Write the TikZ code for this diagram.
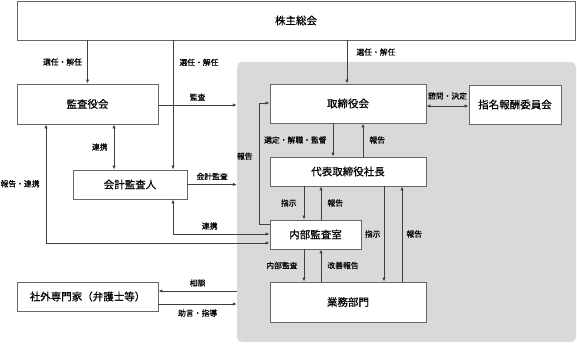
\documentclass[tikz,border=0pt]{standalone}
\usepackage{fontspec}
\newfontfamily\jpfont[FakeBold=0.6]{Noto Sans CJK JP}
\usetikzlibrary{arrows.meta,positioning}
\definecolor{linegray}{HTML}{404040}
\definecolor{boxgray}{HTML}{666666}
\definecolor{areagray}{HTML}{D9D9D9}

\begin{document}
\begin{tikzpicture}[x=1pt,y=-1pt,
  >={Latex[length=4pt,width=3.4pt]}, font=\jpfont,
  org/.style={draw=boxgray,line width=0.9pt,fill=white,inner sep=0pt,
    font=\jpfont\fontsize{10.5}{12}\selectfont},
  area/.style={fill=areagray,rounded corners=5pt,inner sep=0pt,
    minimum width=339pt,minimum height=280pt},
  link/.style={->,draw=linegray,line width=0.9pt},
  lbl/.style={font=\jpfont\fontsize{7.8}{9}\selectfont,inner sep=1pt,text=black}]
  \useasboundingbox (0,0) rectangle (577,344);
  \node[area] (group) at (406.5,202) {};
  \node[org,minimum width=558pt,minimum height=39pt] (share) at (296,20.5) {株主総会};
  \node[org,minimum width=141pt,minimum height=40pt] (kansa) at (87.5,104) {監査役会};
  \node[org,minimum width=114pt,minimum height=29pt] (kaikei) at (130,184.5) {会計監査人};
  \node[org,minimum width=141pt,minimum height=29pt] (outside) at (87.5,296.5) {社外専門家（弁護士等）};
  \node[org,minimum width=156pt,minimum height=39pt] (board) at (348,103.5) {取締役会};
  \node[org,minimum width=92pt,minimum height=39pt] (nomi) at (515,104.5) {指名報酬委員会};
  \node[org,minimum width=156pt,minimum height=29pt] (ceo) at (348,171.5) {代表取締役社長};
  \node[org,minimum width=91pt,minimum height=29pt] (audit) at (315.5,234.5) {内部監査室};
  \node[org,minimum width=156pt,minimum height=40pt] (ops) at (348,302) {業務部門};
  \draw[link] (share.south -| kansa.north) -- node[lbl,left=4pt] {選任・解任} (kansa.north);
  \draw[link] (share.south -| 173,0) -- node[lbl,right=5pt,pos=0.17] {選任・解任} (kaikei.north -| 173,0);
  \draw[link] (share.south -| 347,0) -- node[lbl,right=8pt,pos=0.27] {選任・解任} (board.north -| 347,0);
  \draw[link] (kansa.east |- 0,105) -- node[lbl,above=3pt] {監査} (group.west |- 0,105);
  \draw[link,<->] (kansa.south -| 114,0) -- node[lbl,left=5pt] {連携} (kaikei.north -| 114,0);
  \draw[link] (kaikei.east) -- node[lbl,above=3pt] {会計監査} (kaikei.east -| group.west);
  \draw[link,<->] (kaikei.south -| 173,0) |- node[lbl,above=3pt,pos=0.69] {連携} (audit.west |- 0,234);
  \draw[link,<->] (kansa.south -| 46,0) |- node[lbl,left=5pt,pos=0.25] {報告・連携} (audit.west |- 0,243);
  \draw[link] (group.west |- 0,291) -- node[lbl,above=3pt] {相談} (outside.east |- 0,291);
  \draw[link] (outside.east |- 0,304) -- node[lbl,below=4pt] {助言・指導} (group.west |- 0,304);
  \draw[link,<->] (board.east |- 0,106) -- node[lbl,above=5pt] {諮問・決定} (nomi.west |- 0,106);
  \draw[link] (board.south -| 333,0) -- node[lbl,left=5pt] {選定・解職・監督} (ceo.north -| 333,0);
  \draw[link] (ceo.north -| 363,0) -- node[lbl,right=5pt] {報告} (board.south -| 363,0);
  \draw[link] (audit.west |- 0,224) -- (259,224) |- node[lbl,left=5pt,pos=0.28] {報告} (board.west |- 0,103);
  \draw[link] (ceo.south -| 304,0) -- node[lbl,left=6pt] {指示} (audit.north -| 304,0);
  \draw[link] (audit.north -| 321,0) -- node[lbl,right=5pt] {報告} (ceo.south -| 321,0);
  \draw[link] (audit.south -| 304,0) -- node[lbl,left=5pt] {内部監査} (ops.north -| 304,0);
  \draw[link] (ops.north -| 321,0) -- node[lbl,right=5pt] {改善報告} (audit.south -| 321,0);
  \draw[link] (ceo.south -| 384,0) -- node[lbl,left=2pt] {指示} (ops.north -| 384,0);
  \draw[link] (ops.north -| 402,0) -- node[lbl,right=3pt] {報告} (ceo.south -| 402,0);
\end{tikzpicture}
\end{document}
